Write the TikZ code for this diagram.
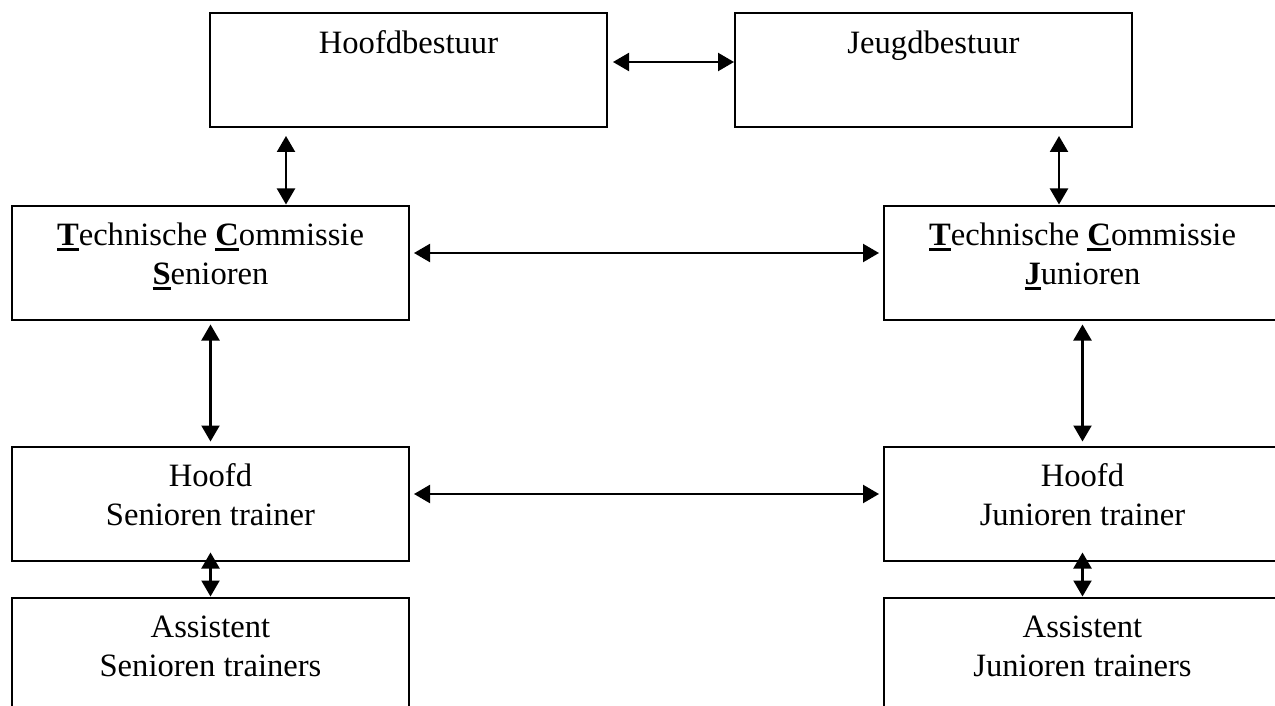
\documentclass[tikz,border=0pt]{standalone}
\usepackage{fontspec}
\setmainfont{Liberation Serif}
\usetikzlibrary{arrows.meta}

% bold first letter with underline
\newcommand{\ulb}[1]{\setbox0\hbox{\textbf{#1}}\rlap{\rule[-2.4pt]{\wd0}{1.3pt}}\box0}
\newcommand{\firstline}{\rule{0pt}{14pt}}

\tikzset{
  box/.style={draw, line width=1pt, minimum width=198.5pt, minimum height=57pt, inner sep=0pt},
  txt/.style={anchor=north, align=center, inner sep=0pt, yshift=-6.5pt, font=\fontsize{16.3}{19.5}\selectfont},
  link/.style={{Triangle[length=8pt,width=9pt]}-{Triangle[length=8pt,width=9pt]}, line width=1.1pt},
}

\begin{document}
\begin{tikzpicture}[x=0.5pt, y=-0.5pt]
\clip (0,0) rectangle (1275,706);

% Besturen
\node[box] (hb) at (408.5,70) {};
\node[box] (jb) at (933.5,70) {};
\node[txt] (hbt) at (hb.north) {\firstline Hoofdbestuur};
\node[txt] (jbt) at (jb.north) {\firstline Jeugdbestuur};

% Technische commissies
\node[box] (tcs) at (210.5,262.5) {};
\node[box] (tcj) at (1082.5,262.5) {};
\node[txt] (tcst) at (tcs.north) {\firstline\ulb{T}echnische \ulb{C}ommissie\\\ulb{S}enioren};
\node[txt] (tcjt) at (tcj.north) {\firstline\ulb{T}echnische \ulb{C}ommissie\\\ulb{J}unioren};

% Hoofdtrainers
\node[box] (hs) at (210.5,503.5) {};
\node[box] (hj) at (1082.5,503.5) {};
\node[txt] (hst) at (hs.north) {\firstline Hoofd\\Senioren trainer};
\node[txt] (hjt) at (hj.north) {\firstline Hoofd\\Junioren trainer};

% Assistenten
\node[box] (as) at (210.5,654.5) {};
\node[box] (aj) at (1082.5,654.5) {};
\node[txt] (ast) at (as.north) {\firstline Assistent\\Senioren trainers};
\node[txt] (ajt) at (aj.north) {\firstline Assistent\\Junioren trainers};

% Verbindingen
\draw[link, shorten <=2.5pt] ([yshift=4pt]hb.east) -- ([yshift=4pt]jb.west);
\draw[link, shorten <=4pt] ([xshift=-61.25pt]hb.south) -- ([xshift=-61.25pt]hb.south |- tcs.north);
\draw[link, shorten <=4pt] ([xshift=62.75pt]jb.south) -- ([xshift=62.75pt]jb.south |- tcj.north);
\draw[link, shorten <=2pt, shorten >=2pt] ([yshift=4.75pt]tcs.east) -- ([yshift=4.75pt]tcj.west);
\draw[link, shorten <=2pt, shorten >=2pt] (tcs.south) -- (hs.north);
\draw[link, shorten <=2pt, shorten >=2pt] (tcj.south) -- (hj.north);
\draw[link, shorten <=2pt, shorten >=2pt] ([yshift=4.75pt]hs.east) -- ([yshift=4.75pt]hj.west);
\draw[link] ([yshift=4.5pt]hs.south) -- (as.north);
\draw[link] ([yshift=4.5pt]hj.south) -- (aj.north);
\end{tikzpicture}
\end{document}
